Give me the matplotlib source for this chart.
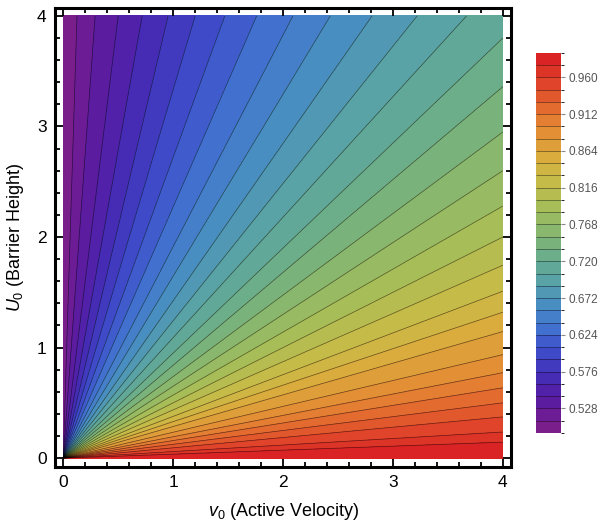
import numpy as np
import matplotlib
matplotlib.use("Agg")
import matplotlib.pyplot as plt
from matplotlib.colors import LinearSegmentedColormap, BoundaryNorm
from matplotlib.ticker import MultipleLocator, FormatStrFormatter

plt.rcParams['font.family'] = ['Liberation Sans', 'DejaVu Sans']
plt.rcParams['mathtext.fontset'] = 'custom'
plt.rcParams['mathtext.rm'] = 'Liberation Sans'
plt.rcParams['mathtext.it'] = 'Liberation Sans:italic'

# contour values (one line every 0.016)
contour_levels = [0.512, 0.528, 0.544, 0.560, 0.576, 0.592, 0.608, 0.624, 0.640, 0.656,
                  0.672, 0.688, 0.704, 0.720, 0.736, 0.752, 0.768, 0.784, 0.800, 0.816,
                  0.832, 0.848, 0.864, 0.880, 0.896, 0.912, 0.928, 0.944, 0.960, 0.976]
# where the contour rays meet the top edge (U0 = 4): v0 values
top_edge_v0 = [0.125, 0.29, 0.50, 0.718, 0.954, 1.20, 1.47, 1.76, 2.09, 2.43, 2.81, 3.22, 3.67]
# where the remaining rays meet the right edge (v0 = 4): U0 values
right_edge_U0 = [3.80, 3.36, 2.95, 2.60, 2.28, 2.00, 1.745, 1.51, 1.32, 1.145, 0.936,
                 0.773, 0.636, 0.50, 0.373, 0.236, 0.145]
value_at_v0_zero = 0.500   # along the U0 axis
value_at_U0_zero = 0.990   # along the v0 axis
band_edges = [0.496] + contour_levels + [0.992]
cbar_ticks = [0.528, 0.576, 0.624, 0.672, 0.720, 0.768, 0.816, 0.864, 0.912, 0.960]

# angle of each contour ray (degrees), then value as a function of angle
ray_angles = np.concatenate([np.degrees(np.arctan2(4.0, np.array(top_edge_v0))),
                             np.degrees(np.arctan2(np.array(right_edge_U0), 4.0))])
ang_pts = np.concatenate([[90.0], ray_angles, [0.0]])[::-1]
val_pts = np.array([value_at_v0_zero] + contour_levels + [value_at_U0_zero])[::-1]

v0 = np.linspace(0, 4, 900)
U0 = np.linspace(0, 4, 900)
V, U = np.meshgrid(v0, U0)
ang = np.degrees(np.arctan2(U, V))
Z = np.interp(ang, ang_pts, val_pts)

# Mathematica-like "Rainbow" gradient
cmap = LinearSegmentedColormap.from_list('rainbow_mma', [
    (0.000, '#7A1E8C'), (0.081, '#561CA3'), (0.145, '#4330B8'), (0.210, '#3D4FCB'),
    (0.274, '#4274CF'), (0.339, '#4A91BF'), (0.403, '#5AA3A4'), (0.468, '#6DAE89'),
    (0.532, '#88B76E'), (0.597, '#A6BD58'), (0.661, '#C3BC49'), (0.726, '#D8AF3E'),
    (0.790, '#E29437'), (0.855, '#E47231'), (0.919, '#E14B2B'), (1.000, '#DA2325')])
norm = BoundaryNorm(band_edges, cmap.N)

fig = plt.figure(figsize=(6.03, 5.28), dpi=100)
ax = fig.add_axes([0.0912, 0.116, 0.757, 0.869])

cf = ax.contourf(V, U, Z, levels=band_edges, cmap=cmap, norm=norm)
cs = ax.contour(V, U, Z, levels=contour_levels, colors='black', linewidths=0.5, alpha=0.55)

ax.set_xlim(-0.075, 4.078)
ax.set_ylim(-0.078, 4.072)
ax.xaxis.set_major_locator(MultipleLocator(1))
ax.yaxis.set_major_locator(MultipleLocator(1))
ax.xaxis.set_minor_locator(MultipleLocator(0.2))
ax.yaxis.set_minor_locator(MultipleLocator(0.2))
ax.tick_params(which='both', direction='in', top=True, right=True, width=1.3, colors='black')
ax.tick_params(which='major', length=6, labelsize=12.5, pad=6)
ax.tick_params(which='minor', length=3.5)
for sp in ax.spines.values():
    sp.set_linewidth(2.2)

ax.set_xlabel(r'$v_0$ (Active Velocity)', fontsize=13, labelpad=8)
ax.set_ylabel(r'$U_0$ (Barrier Height)', fontsize=13, labelpad=8)

cax = fig.add_axes([0.889, 0.18, 0.042, 0.72])
cb = fig.colorbar(cf, cax=cax, ticks=cbar_ticks)
cb.add_lines(cs)
cb.outline.set_visible(False)
cb.ax.yaxis.set_major_formatter(FormatStrFormatter('%.3f'))
cb.ax.tick_params(length=3, width=0.8, color='#888888', labelcolor='#555555', labelsize=8.5, pad=2)

fig.savefig('out.png', dpi=100)
